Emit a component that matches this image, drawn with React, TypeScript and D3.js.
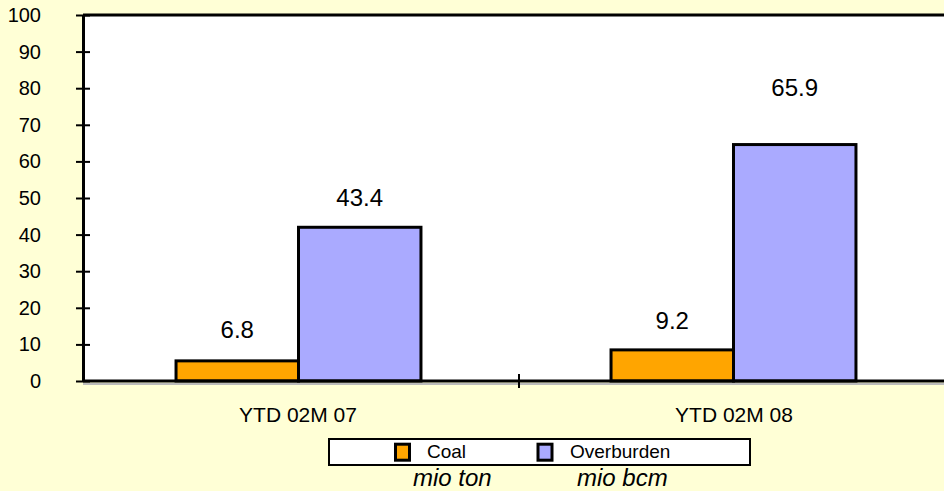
import { useEffect, useRef } from 'react';
import { axisLeft, scaleBand, scaleLinear, select } from 'd3';

const categories = ['YTD 02M 07', 'YTD 02M 08'];
const seriesNames = ['Coal', 'Overburden'];
const units = ['mio ton', 'mio bcm'];
// printed value labels
const coalLabels = ['6.8', '9.2'];
const overburdenLabels = ['43.4', '65.9'];
// bar heights as drawn in the picture
const coalBars = [5.5, 8.5];
const overburdenBars = [42.0, 64.6];
const yTicks = [0, 10, 20, 30, 40, 50, 60, 70, 80, 90, 100];
const colors = ['#FFA500', '#AAAAFF'];

const W = 944;
const H = 491;
const left = 83;
const right = 955;
const top = 15;
const bottom = 381;
const font = 'Liberation Sans, Arial, sans-serif';
// how far each label sits above its bar, px
const labelLift = [
  [21, 20],
  [19, 47],
];

export default function App() {
  const svgRef = useRef<SVGSVGElement>(null);

  useEffect(() => {
    const svg = select(svgRef.current);
    svg.selectAll('*').remove();

    svg.append('rect').attr('width', W).attr('height', H).attr('fill', '#FFFFD6');

    const y = scaleLinear().domain([0, 100]).range([bottom, top]);
    const xAxis = scaleBand<string>().domain(categories).range([left, right]);
    const x = scaleBand<string>().domain(categories).range([left - 2, right - 4]);
    const inner = scaleBand<string>()
      .domain(seriesNames)
      .range([0, x.bandwidth()])
      .paddingOuter(0.776)
      .paddingInner(0);

    // plot area
    svg
      .append('rect')
      .attr('x', left)
      .attr('y', top)
      .attr('width', right - left)
      .attr('height', bottom - top)
      .attr('fill', '#FFFFFF');
    svg
      .append('line')
      .attr('x1', left)
      .attr('x2', W)
      .attr('y1', top)
      .attr('y2', top)
      .attr('stroke', '#000')
      .attr('stroke-width', 3);

    const rows = categories.map((c, i) => ({
      cat: c,
      i,
      vals: [coalBars[i], overburdenBars[i]],
      labels: [coalLabels[i], overburdenLabels[i]],
    }));

    const groups = svg
      .append('g')
      .selectAll('g')
      .data(rows)
      .join('g')
      .attr('transform', (d) => `translate(${x(d.cat)},0)`);

    groups
      .selectAll('rect')
      .data((d) => d.vals.map((v, j) => ({ v, s: seriesNames[j], j })))
      .join('rect')
      .attr('x', (d) => inner(d.s)!)
      .attr('y', (d) => y(d.v))
      .attr('width', inner.bandwidth())
      .attr('height', (d) => y(0) - y(d.v))
      .attr('fill', (d) => colors[d.j])
      .attr('stroke', '#000')
      .attr('stroke-width', 3);

    groups
      .selectAll('text')
      .data((d) =>
        d.vals.map((v, j) => ({ v, s: seriesNames[j], t: d.labels[j], lift: labelLift[d.i][j] })),
      )
      .join('text')
      .attr('x', (d) => inner(d.s)! + inner.bandwidth() / 2)
      .attr('y', (d) => y(d.v) - 1.5 - d.lift)
      .attr('text-anchor', 'middle')
      .attr('font-family', font)
      .attr('font-size', 24)
      .text((d) => d.t);

    // x axis
    svg
      .append('line')
      .attr('x1', left)
      .attr('x2', W)
      .attr('y1', bottom + 3)
      .attr('y2', bottom + 3)
      .attr('stroke', '#BBBBBB')
      .attr('stroke-width', 2);
    svg
      .append('line')
      .attr('x1', left)
      .attr('x2', W)
      .attr('y1', bottom)
      .attr('y2', bottom)
      .attr('stroke', '#000')
      .attr('stroke-width', 3);
    svg
      .append('g')
      .selectAll('line')
      .data(categories.slice(1))
      .join('line')
      .attr('x1', (d) => xAxis(d)!)
      .attr('x2', (d) => xAxis(d)!)
      .attr('y1', bottom - 7)
      .attr('y2', bottom + 7)
      .attr('stroke', '#000')
      .attr('stroke-width', 2);
    svg
      .append('g')
      .selectAll('text')
      .data(categories)
      .join('text')
      .attr('x', (d) => xAxis(d)! + xAxis.bandwidth() / 2 - 3)
      .attr('y', 422)
      .attr('text-anchor', 'middle')
      .attr('font-family', font)
      .attr('font-size', 21)
      .text((d) => d);

    // y axis
    const ya = svg
      .append('g')
      .attr('transform', `translate(${left},0)`)
      .call(axisLeft(y).tickValues(yTicks).tickSize(7).tickPadding(35).tickSizeOuter(0));
    ya.select('.domain').attr('stroke-width', 3);
    ya.selectAll('.tick line').attr('x2', 7).attr('x1', -7).attr('stroke-width', 2);
    ya.selectAll('.tick text')
      .attr('font-family', font)
      .attr('font-size', 20)
      .attr('fill', '#000');

    // legend
    const lg = svg.append('g');
    lg.append('rect')
      .attr('x', 329)
      .attr('y', 439)
      .attr('width', 421)
      .attr('height', 26)
      .attr('fill', '#FFFFFF')
      .attr('stroke', '#000')
      .attr('stroke-width', 2);
    const swatchX = [395.5, 538];
    const textX = [427, 570];
    const unitX = [413, 577];
    seriesNames.forEach((s, i) => {
      lg.append('rect')
        .attr('x', swatchX[i])
        .attr('y', 444.2)
        .attr('width', 14)
        .attr('height', 16)
        .attr('fill', colors[i])
        .attr('stroke', '#000')
        .attr('stroke-width', 3);
      lg.append('text')
        .attr('x', textX[i])
        .attr('y', 458)
        .attr('font-family', font)
        .attr('font-size', 19)
        .text(s);
      lg.append('text')
        .attr('x', unitX[i])
        .attr('y', 486)
        .attr('font-family', font)
        .attr('font-style', 'italic')
        .attr('font-size', 24)
        .text(units[i]);
    });
  }, []);

  return (
    <div style={{ position: 'absolute', left: 0, top: 0 }}>
      <svg ref={svgRef} width={W} height={H} style={{ display: 'block' }} />
    </div>
  );
}
